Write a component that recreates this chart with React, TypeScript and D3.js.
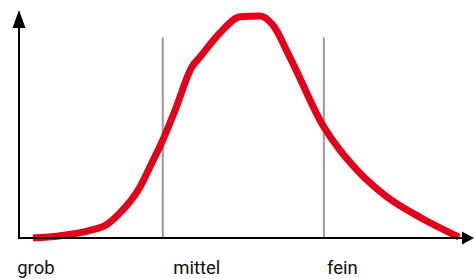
import React, { useEffect, useRef } from 'react';
import * as d3 from 'd3';

// curve samples (x = Feinheit 0..100, y = Anteil 0..100)
const curveX = [3.1, 8.8, 15.6, 19.2, 22.2, 26.6, 29.2, 31.4, 34.3, 38, 39.8, 44.2, 48.6, 53, 55.8, 59.6, 67, 70.5, 74.3, 80.9, 88.4, 96.7];
const curveY = [0, 0.9, 3.3, 5.8, 11, 22.4, 32.9, 42, 56, 75, 79.4, 90, 97, 97.4, 93.4, 79, 48.7, 38.6, 29.8, 18, 8.8, 0.4];

// vertical markers and category labels
const markers = [31.6, 67];
const labels = ['grob', 'mittel', 'fein'];
const labelPos = [-0.4, 33.9, 67.7];

const W = 474;
const H = 279;

function drawChart(container: SVGSVGElement) {
  const svg = d3.select(container);
  svg.selectAll('*').remove();

  const margin = { top: 10, right: 0, bottom: 41, left: 19 };
  const x = d3.scaleLinear().domain([0, 100]).range([margin.left, W - margin.right]);
  const y = d3.scaleLinear().domain([0, 100]).range([H - margin.bottom, margin.top]);

  // gray markers
  svg.selectAll('.marker')
    .data(markers)
    .enter().append('line')
    .attr('class', 'marker')
    .attr('x1', d => x(d))
    .attr('x2', d => x(d))
    .attr('y1', y(88))
    .attr('y2', y(0))
    .attr('stroke', '#9a9a9a')
    .attr('stroke-width', 2);

  // curve
  const pts = curveX.map((v, i) => [v, curveY[i]] as [number, number]);
  const line = d3.line<[number, number]>()
    .x(d => x(d[0]))
    .y(d => y(d[1]))
    .curve(d3.curveMonotoneX);

  svg.append('path')
    .attr('d', line(pts))
    .attr('fill', 'none')
    .attr('stroke', '#e2001a')
    .attr('stroke-width', 7)
    .attr('stroke-linecap', 'butt')
    .attr('stroke-linejoin', 'round');

  // axes
  const x0 = x(0);
  const y0 = y(0);
  svg.append('line')
    .attr('x1', x0).attr('x2', W - 9)
    .attr('y1', y0).attr('y2', y0)
    .attr('stroke', '#000').attr('stroke-width', 2);
  svg.append('line')
    .attr('x1', x0).attr('x2', x0)
    .attr('y1', y0 + 1).attr('y2', margin.top + 16)
    .attr('stroke', '#000').attr('stroke-width', 2);

  // arrow heads
  svg.append('path')
    .attr('d', `M${x0},${margin.top} L${x0 - 6.5},${margin.top + 18} L${x0 + 6.5},${margin.top + 18} Z`)
    .attr('fill', '#000');
  svg.append('path')
    .attr('d', `M${W},${y0} L${W - 12},${y0 - 6.5} L${W - 12},${y0 + 6.5} Z`)
    .attr('fill', '#000');

  // labels
  svg.selectAll('.lbl')
    .data(labels)
    .enter().append('text')
    .attr('class', 'lbl')
    .attr('x', (d, i) => x(labelPos[i]))
    .attr('y', 274)
    .attr('fill', '#111')
    .style('font-family', 'Roboto, sans-serif')
    .style('font-size', '18.5px')
    .text(d => d);
}

export default function App() {
  const ref = useRef<SVGSVGElement>(null);

  useEffect(() => {
    document.body.style.margin = '0';
    if (ref.current) drawChart(ref.current);
  }, []);

  return <svg ref={ref} width={W} height={H} style={{ display: 'block', background: '#fff' }} />;
}
